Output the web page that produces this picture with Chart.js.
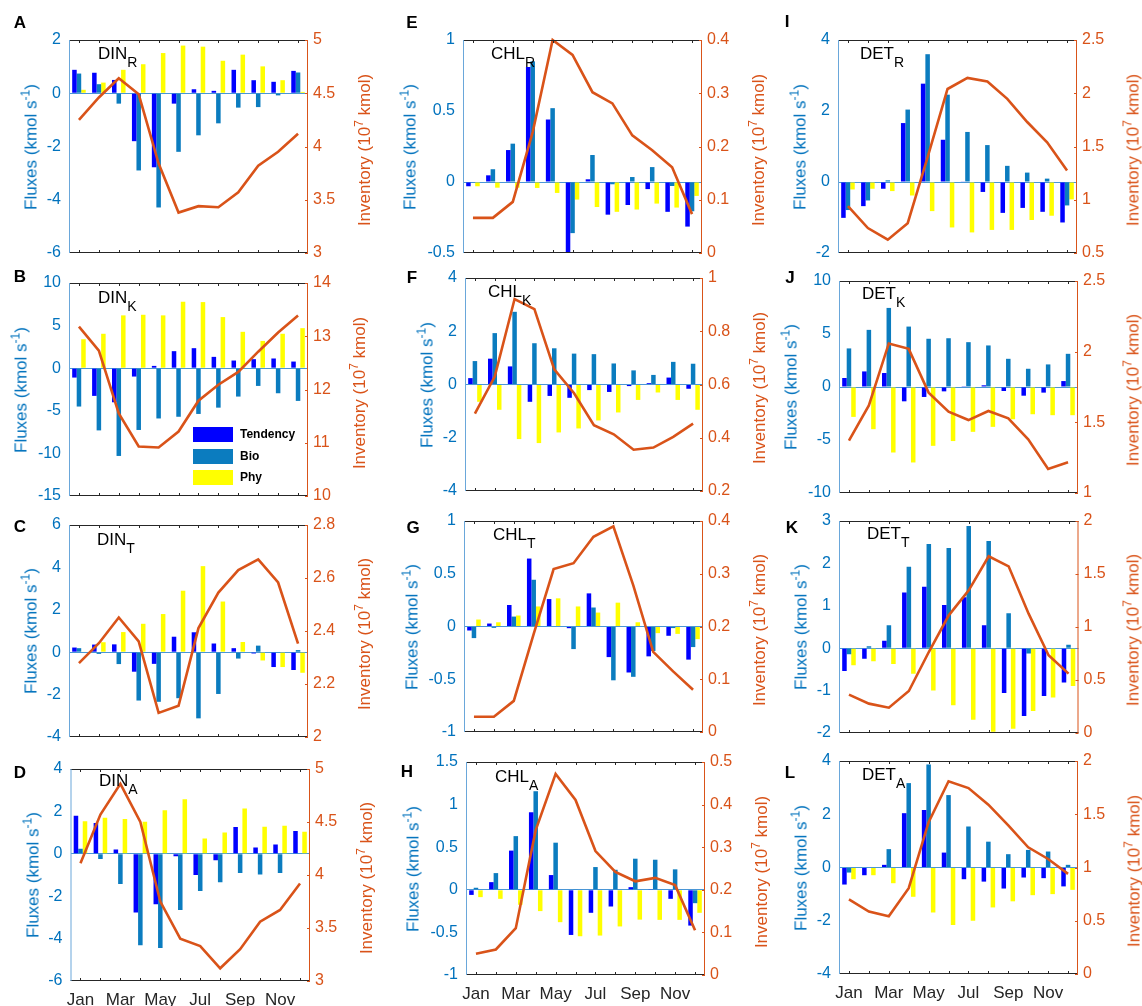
<!DOCTYPE html>
<html>
<head>
<meta charset="utf-8">
<script src="https://cdn.jsdelivr.net/npm/chart.js@4.4.0/dist/chart.umd.min.js"></script>
<style>
  body { margin: 0; background: #fff; width: 1142px; height: 1006px; position: relative; overflow: hidden;
         font-family: 'Liberation Sans', Arial, Helvetica, sans-serif; }
  canvas { position: absolute; }
  .lab { position: absolute; font-weight: bold; font-size: 17px; line-height: 17px; transform: translate(-50%, -50%); color: #000; }
  .ttl { position: absolute; font-size: 17px; line-height: 17px; color: #000; white-space: nowrap; }
  .ttl span { position: relative; top: 8px; font-size: 14px; }
  .ax { position: absolute; font-size: 17px; line-height: 17px; white-space: nowrap; transform: translate(-50%, -50%) rotate(-90deg); }
  .ax span { position: relative; top: -7px; font-size: 12px; }
  .sw { position: absolute; width: 40px; height: 15px; }
  .lt { position: absolute; font-weight: bold; font-size: 12px; line-height: 15px; color: #000; }
</style>
</head>
<body>
<script>
const FONT = "'Liberation Sans', Arial, Helvetica, sans-serif";
const months = ['Jan', 'Feb', 'Mar', 'Apr', 'May', 'Jun', 'Jul', 'Aug', 'Sep', 'Oct', 'Nov', 'Dec'];
const seriesNames = ['Tendency', 'Bio', 'Phy'];
const seriesColors = ['#0000FF', '#0B7CBF', '#FFFF00'];
const invColor = '#D95319';
const fluxColor = '#0072BD';

// DIN
const dinR_tend = [0.88, 0.77, 0.5, -1.8, -2.78, -0.39, 0.15, 0.09, 0.88, 0.49, 0.43, 0.84];
const dinR_bio  = [0.74, 0.34, -0.39, -2.9, -4.29, -2.2, -1.58, -1.13, -0.54, -0.52, -0.08, 0.78];
const dinR_phy  = [0.13, 0.40, 0.88, 1.09, 1.51, 1.79, 1.75, 1.22, 1.45, 1.01, 0.49, 0.05];
const dinR_inv  = [4.25, 4.46, 4.64, 4.49, 3.84, 3.38, 3.44, 3.43, 3.57, 3.82, 3.95, 4.12];

const dinK_tend = [-1.1, -3.25, -4.0, -0.98, 0.27, 2.0, 2.35, 1.33, 0.9, 1.06, 1.14, 0.78];
const dinK_bio  = [-4.5, -7.3, -10.3, -7.25, -5.9, -5.7, -5.37, -4.63, -3.33, -2.08, -2.94, -3.84];
const dinK_phy  = [3.4, 4.04, 6.2, 6.27, 6.2, 7.8, 7.76, 6.0, 4.27, 3.2, 4.04, 4.7];
const dinK_inv  = [13.18, 12.73, 11.55, 10.93, 10.91, 11.21, 11.79, 12.09, 12.33, 12.71, 13.07, 13.39];

const dinT_tend = [0.22, 0.36, 0.37, -0.92, -0.55, 0.73, 0.94, 0.41, 0.19, -0.06, -0.7, -0.84];
const dinT_bio  = [0.19, -0.08, -0.56, -2.28, -2.34, -2.17, -3.12, -1.97, -0.3, 0.31, -0.02, 0.1];
const dinT_phy  = [0.02, 0.47, 0.95, 1.34, 1.8, 2.9, 4.06, 2.39, 0.48, -0.39, -0.7, -0.97];
const dinT_inv  = [2.279, 2.354, 2.451, 2.361, 2.091, 2.118, 2.411, 2.545, 2.63, 2.67, 2.583, 2.352];

const dinA_tend = [1.8, 1.45, 0.2, -2.77, -2.38, -0.11, -1.0, -0.31, 1.26, 0.3, 0.44, 1.07];
const dinA_bio  = [0.24, -0.25, -1.42, -4.31, -4.44, -2.65, -1.75, -1.34, -0.9, -0.98, -0.9, 0.0];
const dinA_phy  = [1.54, 1.7, 1.64, 1.51, 2.06, 2.57, 0.72, 1.01, 2.14, 1.28, 1.32, 1.04];
const dinA_inv  = [4.11, 4.57, 4.86, 4.5, 3.75, 3.4, 3.33, 3.12, 3.3, 3.56, 3.67, 3.92];

// CHL
const chlR_tend = [-0.03, 0.047, 0.225, 0.81, 0.44, -0.52, 0.019, -0.23, -0.162, -0.05, -0.21, -0.314];
const chlR_bio  = [-0.005, 0.09, 0.27, 0.85, 0.52, -0.36, 0.19, -0.016, 0.035, 0.105, -0.028, -0.206];
const chlR_phy  = [-0.03, -0.04, -0.04, -0.042, -0.077, -0.124, -0.176, -0.21, -0.194, -0.152, -0.18, -0.098];
const chlR_inv  = [0.066, 0.066, 0.096, 0.227, 0.4, 0.372, 0.302, 0.281, 0.221, 0.193, 0.161, 0.073];

const chlK_tend = [0.24, 0.97, 0.68, -0.65, -0.43, -0.5, -0.21, -0.28, -0.06, 0.05, 0.26, -0.16];
const chlK_bio  = [0.88, 1.93, 2.73, 1.55, 1.36, 1.16, 1.14, 0.79, 0.53, 0.36, 0.85, 0.78];
const chlK_phy  = [-0.65, -0.95, -2.05, -2.2, -1.8, -1.65, -1.35, -1.05, -0.58, -0.3, -0.58, -0.95];
const chlK_inv  = [0.491, 0.63, 0.921, 0.883, 0.657, 0.567, 0.447, 0.413, 0.355, 0.363, 0.403, 0.453];

const chlT_tend = [-0.038, 0.028, 0.204, 0.644, 0.26, -0.016, 0.314, -0.29, -0.436, -0.283, -0.088, -0.314];
const chlT_bio  = [-0.11, -0.013, 0.094, 0.443, 0.0, -0.214, 0.18, -0.51, -0.477, -0.232, -0.015, -0.195];
const chlT_phy  = [0.066, 0.04, 0.104, 0.19, 0.267, 0.19, 0.132, 0.226, 0.04, -0.063, -0.07, -0.12];
const chlT_inv  = [0.029, 0.029, 0.059, 0.186, 0.309, 0.32, 0.37, 0.39, 0.278, 0.152, 0.115, 0.08];

const chlA_tend = [-0.06, 0.09, 0.46, 0.91, 0.173, -0.53, -0.27, -0.196, 0.031, 0.008, -0.106, -0.42];
const chlA_bio  = [0.024, 0.196, 0.63, 1.157, 0.553, 0.004, 0.267, 0.235, 0.365, 0.353, 0.24, -0.157];
const chlA_phy  = [-0.086, -0.106, -0.176, -0.25, -0.38, -0.545, -0.537, -0.43, -0.35, -0.353, -0.353, -0.27];
const chlA_inv  = [0.05, 0.06, 0.11, 0.34, 0.472, 0.411, 0.291, 0.242, 0.22, 0.228, 0.211, 0.105];

// DET
const detR_tend = [-1.01, -0.68, -0.19, 1.66, 2.77, 1.19, 0.01, -0.28, -0.87, -0.73, -0.84, -1.14];
const detR_bio  = [-0.79, -0.52, 0.047, 2.04, 3.6, 2.46, 1.41, 1.04, 0.455, 0.265, 0.095, -0.66];
const detR_phy  = [-0.21, -0.19, -0.256, -0.38, -0.82, -1.28, -1.42, -1.35, -1.35, -1.07, -0.95, -0.49];
const detR_inv  = [0.94, 0.734, 0.625, 0.78, 1.4, 2.04, 2.144, 2.11, 1.947, 1.73, 1.54, 1.275];

const detK_tend = [0.85, 1.47, 1.32, -1.35, -0.94, -0.41, 0.02, 0.16, -0.38, -0.82, -0.53, 0.56];
const detK_bio  = [3.64, 5.39, 7.46, 5.7, 4.55, 4.6, 4.23, 3.92, 2.66, 1.72, 2.13, 3.13];
const detK_phy  = [-2.82, -3.98, -6.18, -7.12, -5.55, -5.1, -4.23, -3.76, -3.04, -2.57, -2.66, -2.66];
const detK_inv  = [1.37, 1.62, 2.058, 2.02, 1.71, 1.575, 1.516, 1.58, 1.528, 1.38, 1.17, 1.218];

const detT_tend = [-0.535, -0.25, 0.173, 1.315, 1.45, 1.016, 1.2, 0.543, -1.055, -1.6, -1.126, -0.81];
const detT_bio  = [-0.14, 0.047, 0.543, 1.92, 2.457, 2.362, 2.88, 2.53, 0.827, -0.126, 0.0, 0.079];
const detT_phy  = [-0.4, -0.31, -0.37, -0.6, -1.0, -1.346, -1.69, -1.97, -1.9, -1.48, -1.165, -0.89];
const detT_inv  = [0.362, 0.277, 0.239, 0.396, 0.764, 1.11, 1.346, 1.667, 1.572, 1.126, 0.733, 0.56];

const detA_tend = [-0.64, -0.29, 0.1, 2.04, 2.16, 0.56, -0.44, -0.53, -0.79, -0.376, -0.4, -0.71];
const detA_bio  = [-0.19, 0.0, 0.69, 3.17, 3.87, 2.72, 1.54, 0.97, 0.5, 0.66, 0.6, 0.1];
const detA_phy  = [-0.44, -0.29, -0.59, -1.1, -1.69, -2.16, -2.0, -1.5, -1.27, -1.04, -1.0, -0.84];
const detA_inv  = [0.7, 0.586, 0.542, 0.806, 1.426, 1.81, 1.746, 1.59, 1.395, 1.19, 1.08, 0.94];

// column canvases: left edge and width
const cols = [{x: 0, w: 380}, {x: 380, w: 395}, {x: 770, w: 372}];

// panel layout: box = plot [left, right, top, bottom]; yl/yr = [min, max, step]
const panels = [
  {k: 'A', name: 'DIN', sub: 'R', d: [dinR_tend, dinR_bio, dinR_phy, dinR_inv], yl: [-6, 2, 2], yr: [3, 5, 0.5], col: 0, box: [69, 308, 40, 253], t: [98, 53], lab: [20, 22], ltc: 32, rtc: 365},
  {k: 'B', name: 'DIN', sub: 'K', d: [dinK_tend, dinK_bio, dinK_phy, dinK_inv], yl: [-15, 10, 5], yr: [10, 14, 1], col: 0, box: [69, 308, 283, 496], t: [98, 297], lab: [20, 276], ltc: 22, rtc: 360},
  {k: 'C', name: 'DIN', sub: 'T', d: [dinT_tend, dinT_bio, dinT_phy, dinT_inv], yl: [-4, 6, 2], yr: [2, 2.8, 0.2], col: 0, box: [69, 308, 525, 737], t: [97, 539], lab: [20, 526], ltc: 32, rtc: 365},
  {k: 'D', name: 'DIN', sub: 'A', d: [dinA_tend, dinA_bio, dinA_phy, dinA_inv], yl: [-6, 4, 2], yr: [3, 5, 0.5], col: 0, box: [70.5, 310, 769, 981], t: [99, 780], lab: [20, 772], ltc: 33.5, rtc: 367, bottom: true},
  {k: 'E', name: 'CHL', sub: 'R', d: [chlR_tend, chlR_bio, chlR_phy, chlR_inv], yl: [-0.5, 1, 0.5], yr: [0, 0.4, 0.1], col: 1, box: [463, 702, 40, 253], t: [491, 53], lab: [412, 22], ltc: 411, rtc: 759},
  {k: 'F', name: 'CHL', sub: 'K', d: [chlK_tend, chlK_bio, chlK_phy, chlK_inv], yl: [-4, 4, 2], yr: [0.2, 1, 0.2], col: 1, box: [465, 703, 278, 491], t: [488, 291], lab: [412, 277], ltc: 428, rtc: 760},
  {k: 'G', name: 'CHL', sub: 'T', d: [chlT_tend, chlT_bio, chlT_phy, chlT_inv], yl: [-1, 1, 0.5], yr: [0, 0.4, 0.1], col: 1, box: [464, 703, 521, 732], t: [493, 534], lab: [413, 527], ltc: 413, rtc: 760},
  {k: 'H', name: 'CHL', sub: 'A', d: [chlA_tend, chlA_bio, chlA_phy, chlA_inv], yl: [-1, 1.5, 0.5], yr: [0, 0.5, 0.1], col: 1, box: [466, 705, 762, 975], t: [495, 776], lab: [407, 771], ltc: 414, rtc: 762, bottom: true},
  {k: 'I', name: 'DET', sub: 'R', d: [detR_tend, detR_bio, detR_phy, detR_inv], yl: [-2, 4, 2], yr: [0.5, 2.5, 0.5], col: 2, box: [838, 1077, 40, 253], t: [860, 53], lab: [787, 21], ltc: 801, rtc: 1134},
  {k: 'J', name: 'DET', sub: 'K', d: [detK_tend, detK_bio, detK_phy, detK_inv], yl: [-10, 10, 5], yr: [1, 2.5, 0.5], col: 2, box: [839, 1078, 281, 493], t: [862, 293], lab: [790, 277], ltc: 792, rtc: 1134},
  {k: 'K', name: 'DET', sub: 'T', d: [detT_tend, detT_bio, detT_phy, detT_inv], yl: [-2, 3, 1], yr: [0, 2, 0.5], col: 2, box: [839, 1078.5, 521, 733], t: [867, 533], lab: [792, 527], ltc: 802, rtc: 1134},
  {k: 'L', name: 'DET', sub: 'A', d: [detA_tend, detA_bio, detA_phy, detA_inv], yl: [-4, 4, 2], yr: [0, 2, 0.5], col: 2, box: [839, 1078, 761, 974], t: [862, 774], lab: [790, 772], ltc: 802, rtc: 1135, bottom: true}
];

const fmt = v => String(Math.round(v * 1000) / 1000);

// axis box lines and inward ticks, MATLAB style
const frame = {
  id: 'frame',
  afterDatasetsDraw(chart) {
    const {ctx, chartArea: a, scales} = chart;
    const x = scales.x, yr = scales.y1;
    const t = 3;
    ctx.save();
    ctx.lineWidth = 1;
    ctx.strokeStyle = '#262626';
    ctx.beginPath();
    ctx.moveTo(a.left, a.top + 0.5); ctx.lineTo(a.right, a.top + 0.5);
    ctx.moveTo(a.left, a.bottom - 0.5); ctx.lineTo(a.right, a.bottom - 0.5);
    chart.data.labels.forEach((_, i) => {
      const px = Math.round(x.getPixelForValue(i)) + 0.5;
      ctx.moveTo(px, a.top); ctx.lineTo(px, a.top + t);
      ctx.moveTo(px, a.bottom); ctx.lineTo(px, a.bottom - t);
    });
    ctx.stroke();
    ctx.strokeStyle = '#6aa7da';
    ctx.beginPath();
    ctx.moveTo(a.left + 0.5, a.top); ctx.lineTo(a.left + 0.5, a.bottom);
    ctx.stroke();
    ctx.strokeStyle = invColor;
    ctx.beginPath();
    ctx.moveTo(a.right - 0.5, a.top); ctx.lineTo(a.right - 0.5, a.bottom);
    yr.ticks.forEach(tk => {
      const py = Math.round(yr.getPixelForValue(tk.value)) + 0.5;
      ctx.moveTo(a.right, py); ctx.lineTo(a.right - t, py);
    });
    ctx.stroke();
    ctx.restore();
  }
};

function addDiv(cls, html, x, y, color) {
  const d = document.createElement('div');
  d.className = cls;
  d.innerHTML = html;
  d.style.left = x + 'px';
  d.style.top = y + 'px';
  if (color) d.style.color = color;
  document.body.appendChild(d);
}

function makePanel(p) {
  const col = cols[p.col];
  const [pl, pr, pt, pb] = p.box;
  const padTop = 12;
  const xh = p.bottom ? 34 : 12;
  const w = col.w, h = padTop + (pb - pt) + xh;
  const cv = document.createElement('canvas');
  cv.width = w; cv.height = h;
  cv.style.left = col.x + 'px';
  cv.style.top = (pt - padTop) + 'px';
  cv.style.width = w + 'px';
  cv.style.height = h + 'px';
  document.body.appendChild(cv);

  const bars = [0, 1, 2].map(i => ({
    type: 'bar', label: seriesNames[i], data: p.d[i], backgroundColor: seriesColors[i],
    borderWidth: 0, yAxisID: 'y', categoryPercentage: 0.68, barPercentage: 1, clip: 0, order: 1
  }));

  new Chart(cv, {
    data: {
      labels: months,
      datasets: [
        ...bars,
        {type: 'line', label: 'Inventory', data: p.d[3], yAxisID: 'y1', borderColor: invColor, borderWidth: 2.6,
         pointRadius: 0, tension: 0, fill: false, clip: 4, order: 0}
      ]
    },
    options: {
      responsive: false,
      animation: false,
      devicePixelRatio: 1,
      layout: {padding: {top: padTop, left: 0, right: 0, bottom: 0}},
      plugins: {legend: {display: false}, tooltip: {enabled: false}},
      scales: {
        x: {
          type: 'category', offset: true,
          grid: {display: false, drawTicks: false}, border: {display: false},
          ticks: {display: !!p.bottom, autoSkip: false, maxRotation: 0, padding: 9, color: '#262626',
                  font: {family: FONT, size: 17}, callback: (v, i) => i % 2 === 0 ? months[i] : ''},
          afterFit: s => { s.height = xh; s.paddingLeft = 0; s.paddingRight = 0; }
        },
        y: {
          position: 'left', min: p.yl[0], max: p.yl[1],
          ticks: {stepSize: p.yl[2], color: fluxColor, padding: 8, font: {family: FONT, size: 16}, callback: fmt},
          grid: {color: c => c.tick && c.tick.value === 0 ? '#4a96d6' : 'rgba(0,0,0,0)', drawTicks: false, lineWidth: 1},
          border: {display: false},
          afterFit: s => { s.width = pl - col.x; s.paddingTop = 0; s.paddingBottom = 0; }
        },
        y1: {
          position: 'right', min: p.yr[0], max: p.yr[1],
          ticks: {stepSize: p.yr[2], color: invColor, padding: 5, font: {family: FONT, size: 16}, callback: fmt},
          grid: {display: false, drawTicks: false},
          border: {display: false},
          afterFit: s => { s.width = col.x + w - pr; s.paddingTop = 0; s.paddingBottom = 0; }
        }
      }
    },
    plugins: [frame]
  });

  const cy = (pt + pb) / 2;
  addDiv('ax', 'Fluxes (kmol s<span>-1</span>)', p.ltc, cy, fluxColor);
  addDiv('ax', 'Inventory (10<span>7</span> kmol)', p.rtc, cy + 3, invColor);
  addDiv('ttl', p.name + '<span>' + p.sub + '</span>', p.t[0], p.t[1] - 8.3);
  addDiv('lab', p.k, p.lab[0], p.lab[1]);
}

panels.forEach(makePanel);

// legend inside panel B
const legTop = [427, 449, 470];
seriesNames.forEach((n, i) => {
  const s = document.createElement('div');
  s.className = 'sw';
  s.style.left = '193px';
  s.style.top = legTop[i] + 'px';
  s.style.background = seriesColors[i];
  document.body.appendChild(s);
  addDiv('lt', n, 240, legTop[i]);
});
</script>
</body>
</html>
